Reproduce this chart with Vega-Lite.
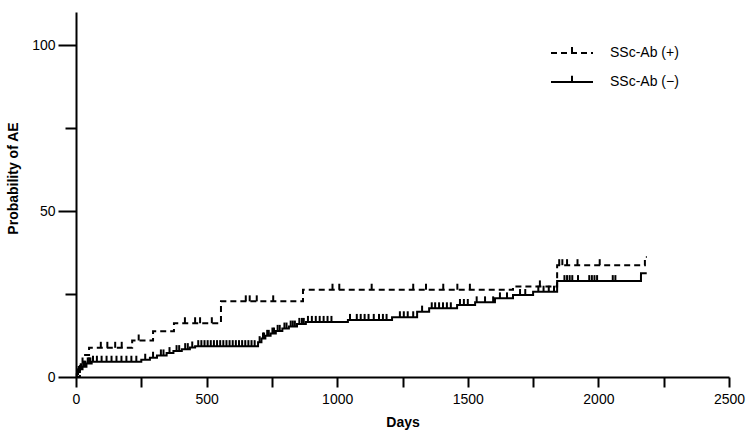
{
  "$schema": "https://vega.github.io/schema/vega-lite/v6.json",
  "width": 653,
  "height": 365,
  "autosize": {"type": "none"},
  "padding": {"left": 76, "top": 12, "right": 21, "bottom": 62},
  "background": "white",
  "config": {
    "view": {"stroke": null},
    "font": "Liberation Sans",
    "axis": {
      "grid": false,
      "domainColor": "black",
      "domainWidth": 2,
      "tickColor": "black",
      "tickWidth": 2,
      "labelColor": "black",
      "labelFont": "Liberation Sans",
      "labelFontSize": 14,
      "titleColor": "black",
      "titleFont": "Liberation Sans",
      "titleFontSize": 14,
      "titleFontWeight": "bold"
    }
  },
  "datasets": {
    "curves": [
      {"group": "SSc-Ab (+)", "day": 0, "p": 0},
      {"group": "SSc-Ab (+)", "day": 15, "p": 3.3},
      {"group": "SSc-Ab (+)", "day": 25, "p": 6.6},
      {"group": "SSc-Ab (+)", "day": 50, "p": 8.8},
      {"group": "SSc-Ab (+)", "day": 215, "p": 11.0},
      {"group": "SSc-Ab (+)", "day": 295, "p": 13.8},
      {"group": "SSc-Ab (+)", "day": 375, "p": 16.2},
      {"group": "SSc-Ab (+)", "day": 555, "p": 22.8},
      {"group": "SSc-Ab (+)", "day": 869, "p": 26.3},
      {"group": "SSc-Ab (+)", "day": 1673, "p": 27.3},
      {"group": "SSc-Ab (+)", "day": 1842, "p": 33.7},
      {"group": "SSc-Ab (+)", "day": 2178, "p": 36.2},
      {"group": "SSc-Ab (+)", "day": 2185, "p": 36.2},
      {"group": "SSc-Ab (−)", "day": 0, "p": 0},
      {"group": "SSc-Ab (−)", "day": 3, "p": 0.8},
      {"group": "SSc-Ab (−)", "day": 8, "p": 1.5},
      {"group": "SSc-Ab (−)", "day": 15, "p": 2.3},
      {"group": "SSc-Ab (−)", "day": 25, "p": 3.1},
      {"group": "SSc-Ab (−)", "day": 40, "p": 4.1},
      {"group": "SSc-Ab (−)", "day": 60, "p": 4.6},
      {"group": "SSc-Ab (−)", "day": 250, "p": 5.2},
      {"group": "SSc-Ab (−)", "day": 283, "p": 5.8},
      {"group": "SSc-Ab (−)", "day": 310, "p": 6.5},
      {"group": "SSc-Ab (−)", "day": 347, "p": 7.2},
      {"group": "SSc-Ab (−)", "day": 373, "p": 7.8},
      {"group": "SSc-Ab (−)", "day": 405, "p": 8.4},
      {"group": "SSc-Ab (−)", "day": 436, "p": 8.9},
      {"group": "SSc-Ab (−)", "day": 456, "p": 9.3},
      {"group": "SSc-Ab (−)", "day": 697, "p": 10.5},
      {"group": "SSc-Ab (−)", "day": 710, "p": 11.6},
      {"group": "SSc-Ab (−)", "day": 725, "p": 12.4},
      {"group": "SSc-Ab (−)", "day": 745, "p": 13.1},
      {"group": "SSc-Ab (−)", "day": 765, "p": 13.9},
      {"group": "SSc-Ab (−)", "day": 790, "p": 14.6},
      {"group": "SSc-Ab (−)", "day": 815, "p": 15.2},
      {"group": "SSc-Ab (−)", "day": 846, "p": 16.0},
      {"group": "SSc-Ab (−)", "day": 880, "p": 16.6},
      {"group": "SSc-Ab (−)", "day": 1041, "p": 17.2},
      {"group": "SSc-Ab (−)", "day": 1210, "p": 18.0},
      {"group": "SSc-Ab (−)", "day": 1306, "p": 19.7},
      {"group": "SSc-Ab (−)", "day": 1352, "p": 20.7},
      {"group": "SSc-Ab (−)", "day": 1459, "p": 21.7},
      {"group": "SSc-Ab (−)", "day": 1528, "p": 22.5},
      {"group": "SSc-Ab (−)", "day": 1604, "p": 23.7},
      {"group": "SSc-Ab (−)", "day": 1673, "p": 24.7},
      {"group": "SSc-Ab (−)", "day": 1750, "p": 25.7},
      {"group": "SSc-Ab (−)", "day": 1842, "p": 28.9},
      {"group": "SSc-Ab (−)", "day": 2163, "p": 31.3},
      {"group": "SSc-Ab (−)", "day": 2185, "p": 31.3}
    ],
    "censor": [
      {"group": "SSc-Ab (+)", "day": 95, "p": 8.8},
      {"group": "SSc-Ab (+)", "day": 120, "p": 8.8},
      {"group": "SSc-Ab (+)", "day": 150, "p": 8.8},
      {"group": "SSc-Ab (+)", "day": 175, "p": 8.8},
      {"group": "SSc-Ab (+)", "day": 240, "p": 11.0},
      {"group": "SSc-Ab (+)", "day": 417, "p": 16.2},
      {"group": "SSc-Ab (+)", "day": 456, "p": 16.2},
      {"group": "SSc-Ab (+)", "day": 475, "p": 16.2},
      {"group": "SSc-Ab (+)", "day": 520, "p": 16.2},
      {"group": "SSc-Ab (+)", "day": 650, "p": 22.8},
      {"group": "SSc-Ab (+)", "day": 665, "p": 22.8},
      {"group": "SSc-Ab (+)", "day": 692, "p": 22.8},
      {"group": "SSc-Ab (+)", "day": 755, "p": 22.8},
      {"group": "SSc-Ab (+)", "day": 982, "p": 26.3},
      {"group": "SSc-Ab (+)", "day": 1008, "p": 26.3},
      {"group": "SSc-Ab (+)", "day": 1132, "p": 26.3},
      {"group": "SSc-Ab (+)", "day": 1291, "p": 26.3},
      {"group": "SSc-Ab (+)", "day": 1340, "p": 26.3},
      {"group": "SSc-Ab (+)", "day": 1406, "p": 26.3},
      {"group": "SSc-Ab (+)", "day": 1460, "p": 26.3},
      {"group": "SSc-Ab (+)", "day": 1508, "p": 26.3},
      {"group": "SSc-Ab (+)", "day": 1776, "p": 27.3},
      {"group": "SSc-Ab (+)", "day": 1850, "p": 33.7},
      {"group": "SSc-Ab (+)", "day": 1862, "p": 33.7},
      {"group": "SSc-Ab (+)", "day": 1880, "p": 33.7},
      {"group": "SSc-Ab (+)", "day": 1920, "p": 33.7},
      {"group": "SSc-Ab (+)", "day": 2005, "p": 33.7},
      {"group": "SSc-Ab (−)", "day": 5, "p": 0.8},
      {"group": "SSc-Ab (−)", "day": 10, "p": 1.5},
      {"group": "SSc-Ab (−)", "day": 12, "p": 1.5},
      {"group": "SSc-Ab (−)", "day": 18, "p": 2.3},
      {"group": "SSc-Ab (−)", "day": 21, "p": 2.3},
      {"group": "SSc-Ab (−)", "day": 28, "p": 3.1},
      {"group": "SSc-Ab (−)", "day": 32, "p": 3.1},
      {"group": "SSc-Ab (−)", "day": 36, "p": 3.1},
      {"group": "SSc-Ab (−)", "day": 45, "p": 4.1},
      {"group": "SSc-Ab (−)", "day": 50, "p": 4.1},
      {"group": "SSc-Ab (−)", "day": 55, "p": 4.1},
      {"group": "SSc-Ab (−)", "day": 65, "p": 4.6},
      {"group": "SSc-Ab (−)", "day": 80, "p": 4.6},
      {"group": "SSc-Ab (−)", "day": 98, "p": 4.6},
      {"group": "SSc-Ab (−)", "day": 117, "p": 4.6},
      {"group": "SSc-Ab (−)", "day": 136, "p": 4.6},
      {"group": "SSc-Ab (−)", "day": 155, "p": 4.6},
      {"group": "SSc-Ab (−)", "day": 174, "p": 4.6},
      {"group": "SSc-Ab (−)", "day": 193, "p": 4.6},
      {"group": "SSc-Ab (−)", "day": 212, "p": 4.6},
      {"group": "SSc-Ab (−)", "day": 231, "p": 4.6},
      {"group": "SSc-Ab (−)", "day": 265, "p": 5.2},
      {"group": "SSc-Ab (−)", "day": 295, "p": 5.8},
      {"group": "SSc-Ab (−)", "day": 325, "p": 6.5},
      {"group": "SSc-Ab (−)", "day": 335, "p": 6.5},
      {"group": "SSc-Ab (−)", "day": 358, "p": 7.2},
      {"group": "SSc-Ab (−)", "day": 385, "p": 7.8},
      {"group": "SSc-Ab (−)", "day": 395, "p": 7.8},
      {"group": "SSc-Ab (−)", "day": 418, "p": 8.4},
      {"group": "SSc-Ab (−)", "day": 428, "p": 8.4},
      {"group": "SSc-Ab (−)", "day": 445, "p": 8.9},
      {"group": "SSc-Ab (−)", "day": 468, "p": 9.3},
      {"group": "SSc-Ab (−)", "day": 480, "p": 9.3},
      {"group": "SSc-Ab (−)", "day": 492, "p": 9.3},
      {"group": "SSc-Ab (−)", "day": 504, "p": 9.3},
      {"group": "SSc-Ab (−)", "day": 516, "p": 9.3},
      {"group": "SSc-Ab (−)", "day": 528, "p": 9.3},
      {"group": "SSc-Ab (−)", "day": 540, "p": 9.3},
      {"group": "SSc-Ab (−)", "day": 552, "p": 9.3},
      {"group": "SSc-Ab (−)", "day": 564, "p": 9.3},
      {"group": "SSc-Ab (−)", "day": 576, "p": 9.3},
      {"group": "SSc-Ab (−)", "day": 588, "p": 9.3},
      {"group": "SSc-Ab (−)", "day": 600, "p": 9.3},
      {"group": "SSc-Ab (−)", "day": 612, "p": 9.3},
      {"group": "SSc-Ab (−)", "day": 624, "p": 9.3},
      {"group": "SSc-Ab (−)", "day": 636, "p": 9.3},
      {"group": "SSc-Ab (−)", "day": 648, "p": 9.3},
      {"group": "SSc-Ab (−)", "day": 660, "p": 9.3},
      {"group": "SSc-Ab (−)", "day": 672, "p": 9.3},
      {"group": "SSc-Ab (−)", "day": 684, "p": 9.3},
      {"group": "SSc-Ab (−)", "day": 703, "p": 10.5},
      {"group": "SSc-Ab (−)", "day": 716, "p": 11.6},
      {"group": "SSc-Ab (−)", "day": 720, "p": 11.6},
      {"group": "SSc-Ab (−)", "day": 732, "p": 12.4},
      {"group": "SSc-Ab (−)", "day": 738, "p": 12.4},
      {"group": "SSc-Ab (−)", "day": 752, "p": 13.1},
      {"group": "SSc-Ab (−)", "day": 758, "p": 13.1},
      {"group": "SSc-Ab (−)", "day": 772, "p": 13.9},
      {"group": "SSc-Ab (−)", "day": 780, "p": 13.9},
      {"group": "SSc-Ab (−)", "day": 798, "p": 14.6},
      {"group": "SSc-Ab (−)", "day": 806, "p": 14.6},
      {"group": "SSc-Ab (−)", "day": 822, "p": 15.2},
      {"group": "SSc-Ab (−)", "day": 830, "p": 15.2},
      {"group": "SSc-Ab (−)", "day": 838, "p": 15.2},
      {"group": "SSc-Ab (−)", "day": 855, "p": 16.0},
      {"group": "SSc-Ab (−)", "day": 865, "p": 16.0},
      {"group": "SSc-Ab (−)", "day": 872, "p": 16.0},
      {"group": "SSc-Ab (−)", "day": 888, "p": 16.6},
      {"group": "SSc-Ab (−)", "day": 903, "p": 16.6},
      {"group": "SSc-Ab (−)", "day": 918, "p": 16.6},
      {"group": "SSc-Ab (−)", "day": 933, "p": 16.6},
      {"group": "SSc-Ab (−)", "day": 948, "p": 16.6},
      {"group": "SSc-Ab (−)", "day": 963, "p": 16.6},
      {"group": "SSc-Ab (−)", "day": 978, "p": 16.6},
      {"group": "SSc-Ab (−)", "day": 1049, "p": 17.2},
      {"group": "SSc-Ab (−)", "day": 1075, "p": 17.2},
      {"group": "SSc-Ab (−)", "day": 1090, "p": 17.2},
      {"group": "SSc-Ab (−)", "day": 1105, "p": 17.2},
      {"group": "SSc-Ab (−)", "day": 1120, "p": 17.2},
      {"group": "SSc-Ab (−)", "day": 1140, "p": 17.2},
      {"group": "SSc-Ab (−)", "day": 1160, "p": 17.2},
      {"group": "SSc-Ab (−)", "day": 1175, "p": 17.2},
      {"group": "SSc-Ab (−)", "day": 1189, "p": 17.2},
      {"group": "SSc-Ab (−)", "day": 1240, "p": 18.0},
      {"group": "SSc-Ab (−)", "day": 1255, "p": 18.0},
      {"group": "SSc-Ab (−)", "day": 1270, "p": 18.0},
      {"group": "SSc-Ab (−)", "day": 1291, "p": 18.0},
      {"group": "SSc-Ab (−)", "day": 1325, "p": 19.7},
      {"group": "SSc-Ab (−)", "day": 1362, "p": 20.7},
      {"group": "SSc-Ab (−)", "day": 1375, "p": 20.7},
      {"group": "SSc-Ab (−)", "day": 1390, "p": 20.7},
      {"group": "SSc-Ab (−)", "day": 1405, "p": 20.7},
      {"group": "SSc-Ab (−)", "day": 1420, "p": 20.7},
      {"group": "SSc-Ab (−)", "day": 1435, "p": 20.7},
      {"group": "SSc-Ab (−)", "day": 1470, "p": 21.7},
      {"group": "SSc-Ab (−)", "day": 1485, "p": 21.7},
      {"group": "SSc-Ab (−)", "day": 1500, "p": 21.7},
      {"group": "SSc-Ab (−)", "day": 1534, "p": 22.5},
      {"group": "SSc-Ab (−)", "day": 1566, "p": 22.5},
      {"group": "SSc-Ab (−)", "day": 1597, "p": 22.5},
      {"group": "SSc-Ab (−)", "day": 1623, "p": 23.7},
      {"group": "SSc-Ab (−)", "day": 1650, "p": 23.7},
      {"group": "SSc-Ab (−)", "day": 1700, "p": 24.7},
      {"group": "SSc-Ab (−)", "day": 1720, "p": 24.7},
      {"group": "SSc-Ab (−)", "day": 1770, "p": 25.7},
      {"group": "SSc-Ab (−)", "day": 1790, "p": 25.7},
      {"group": "SSc-Ab (−)", "day": 1810, "p": 25.7},
      {"group": "SSc-Ab (−)", "day": 1830, "p": 25.7},
      {"group": "SSc-Ab (−)", "day": 1870, "p": 28.9},
      {"group": "SSc-Ab (−)", "day": 1880, "p": 28.9},
      {"group": "SSc-Ab (−)", "day": 1890, "p": 28.9},
      {"group": "SSc-Ab (−)", "day": 1900, "p": 28.9},
      {"group": "SSc-Ab (−)", "day": 1922, "p": 28.9},
      {"group": "SSc-Ab (−)", "day": 1965, "p": 28.9},
      {"group": "SSc-Ab (−)", "day": 1975, "p": 28.9},
      {"group": "SSc-Ab (−)", "day": 1985, "p": 28.9},
      {"group": "SSc-Ab (−)", "day": 1995, "p": 28.9},
      {"group": "SSc-Ab (−)", "day": 2055, "p": 28.9},
      {"group": "SSc-Ab (−)", "day": 2065, "p": 28.9}
    ]
  },
  "layer": [
    {
      "data": {"name": "curves"},
      "mark": {"type": "line", "interpolate": "step-after", "color": "black", "strokeWidth": 2},
      "encoding": {
        "x": {
          "field": "day",
          "type": "quantitative",
          "scale": {"domain": [0, 2500], "nice": false},
          "axis": {
            "title": "Days",
            "values": [0, 250, 500, 750, 1000, 1250, 1500, 1750, 2000, 2250, 2500],
            "labelExpr": "datum.value % 500 === 0 ? datum.label : ''",
            "format": "d",
            "tickSize": 10,
            "labelPadding": 5,
            "titlePadding": 9,
            "labelFlush": false,
            "labelOverlap": false
          }
        },
        "y": {
          "field": "p",
          "type": "quantitative",
          "scale": {"domain": [0, 110], "nice": false},
          "axis": {
            "title": "Probability of AE",
            "values": [0, 25, 50, 75, 100],
            "labelExpr": "datum.value % 50 === 0 ? datum.label : ''",
            "tickSize": {"condition": {"test": "datum.value % 50 === 0", "value": 18}, "value": 11},
            "labelPadding": 3,
            "titlePadding": 11,
            "titleY": 166,
            "labelFlush": false,
            "labelOverlap": false
          }
        },
        "strokeDash": {
          "field": "group",
          "type": "nominal",
          "scale": {"domain": ["SSc-Ab (+)", "SSc-Ab (−)"], "range": [[6, 4], [1, 0]]},
          "legend": {
            "title": null,
            "orient": "none",
            "legendX": 474,
            "legendY": 19,
            "padding": 0,
            "symbolType": "M-1,0H1M0,0V-0.3",
            "symbolSize": 1764,
            "symbolStrokeWidth": 2,
            "symbolStrokeColor": "black",
            "symbolFillColor": "transparent",
            "labelFont": "Liberation Sans",
            "labelFontSize": 14,
            "labelColor": "black",
            "labelOffset": 16,
            "rowPadding": -12
          }
        }
      }
    },
    {
      "data": {"name": "censor"},
      "mark": {"type": "point", "shape": "M0,0V-1", "size": 144, "filled": false, "stroke": "black", "strokeWidth": 2, "opacity": 1},
      "encoding": {
        "x": {"field": "day", "type": "quantitative"},
        "y": {"field": "p", "type": "quantitative"}
      }
    }
  ]
}
